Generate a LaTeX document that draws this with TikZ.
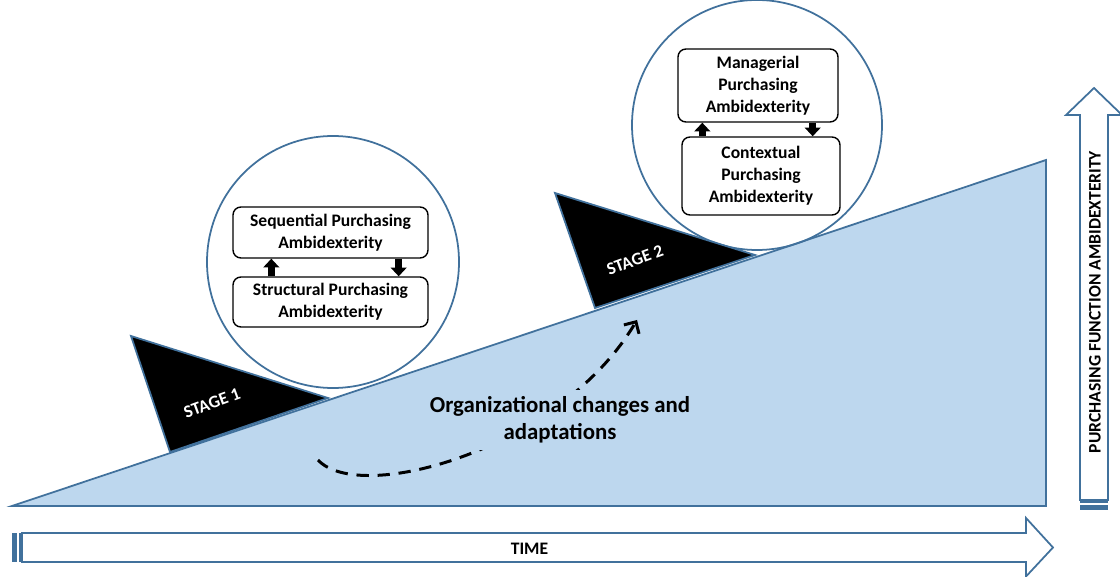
\documentclass[tikz,border=0pt]{standalone}
\usepackage{fontspec}
\setmainfont{Carlito}
\usetikzlibrary{positioning,calc,arrows.meta}
\definecolor{wedgefill}{RGB}{189,215,238}
\definecolor{wedgeline}{RGB}{65,113,156}

\begin{document}
\begin{tikzpicture}[x=0.02cm,y=-0.02cm,
  box/.style={draw,line width=0.8pt,rounded corners=4.5pt,fill=white,align=center,inner sep=0pt,font=\fontsize{10}{12.5}\selectfont\bfseries},
  stagetext/.style={text=white,rotate=20,font=\fontsize{10}{12}\selectfont\bfseries},
  swaparrow/.style={-{Triangle[width=9pt,length=5pt]},line width=4.3pt},
  outline/.style={draw=wedgeline,line width=1pt}]

\useasboundingbox (0,0) rectangle (1120,577);

% rising wedge
\filldraw[outline,fill=wedgefill] (12,506) -- (1046,506) -- (1046,160) -- cycle;

% the two circles
\draw[outline] (333,262) circle (126);
\draw[outline] (757,125) circle (125);

% stages
\filldraw[outline,fill=black] (131,336) -- (328,398) -- (170,452) -- cycle;
\filldraw[outline,fill=black] (555,193) -- (755,255) -- (595,308) -- cycle;
\node[stagetext](st1) at (212,403) {STAGE 1};
\node[stagetext](st2) at (635,260) {STAGE 2};

% boxes
\node[box,minimum width=3.9cm,minimum height=1.02cm](seq) at (330.5,232.5) {Sequential Purchasing\\Ambidexterity};
\node[box,minimum width=3.9cm,minimum height=1cm](str) at (330.5,302) {Structural Purchasing\\Ambidexterity};
\node[box,minimum width=3.2cm,minimum height=1.46cm](man) at (758,85.5) {Managerial\\Purchasing\\Ambidexterity};
\node[box,minimum width=3.16cm,minimum height=1.56cm](con) at (761,176) {Contextual\\Purchasing\\Ambidexterity};

\coordinate (a1) at ($(str.north west)+(39,0)$);
\coordinate (a2) at ($(seq.south east)+(-30,0)$);
\coordinate (a3) at ($(con.north west)+(21,0)$);
\coordinate (a4) at ($(man.south east)+(-26,0)$);

\foreach \s/\t in {a1/seq.south,a2/str.north,a3/man.south,a4/con.north}{
	\draw[swaparrow] (\s) -- (\s |- \t);
}

% organizational changes
\coordinate (chgstart) at (318,460);
\coordinate (chgend) at (637,320);
\draw[line width=1.7pt,dash pattern=on 7pt off 5pt,-{Straight Barb[length=5pt,width=10pt]}] (chgstart) .. controls (360,505) and (560,450) .. (chgend);
\node[fill=wedgefill,align=center,inner sep=4pt,font=\fontsize{13}{15.3}\selectfont\bfseries](chg) at (560,420) {Organizational changes and\\adaptations};

% time axis
\draw[outline,fill=white] (22,533) -- (1026,533) -- (1026,518) -- (1053,547.5) -- (1026,576.5) -- (1026,562) -- (22,562) -- cycle;
\fill[wedgeline] (12,533) rectangle (17,562);
\fill[wedgeline] (18.5,533) rectangle (22,562);
\node[font=\fontsize{10}{12}\selectfont\bfseries](time) at (529.5,549) {TIME};

% ambidexterity axis
\draw[outline,fill=white] (1080,500) -- (1080,115) -- (1066,115) -- (1094,88) -- (1122,115) -- (1108,115) -- (1108,500) -- cycle;
\fill[wedgeline] (1080,500) rectangle (1108,503);
\fill[wedgeline] (1080,505.5) rectangle (1108,510);
\node[rotate=90,font=\fontsize{10}{12}\selectfont\bfseries](amb) at (1095,302) {PURCHASING FUNCTION AMBIDEXTERITY};

\end{tikzpicture}
\end{document}
